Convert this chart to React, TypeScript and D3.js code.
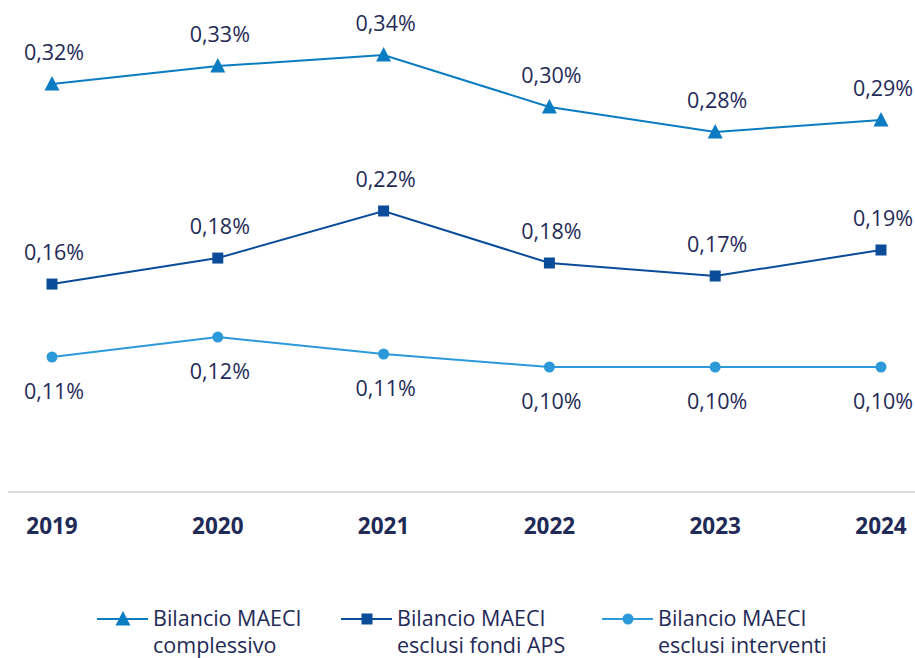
import React from "react";
import * as d3 from "d3";

const years = ["2019", "2020", "2021", "2022", "2023", "2024"];
const complessivo = [0.3177, 0.3315, 0.34, 0.3, 0.2808, 0.29];
const complessivoLabels = ["0,32%", "0,33%", "0,34%", "0,30%", "0,28%", "0,29%"];
const esclusiAPS = [0.1638, 0.1838, 0.22, 0.18, 0.17, 0.19];
const esclusiAPSLabels = ["0,16%", "0,18%", "0,22%", "0,18%", "0,17%", "0,19%"];
const esclusiInterventi = [0.1077, 0.123, 0.11, 0.1, 0.1, 0.1];
const esclusiInterventiLabels = ["0,11%", "0,12%", "0,11%", "0,10%", "0,10%", "0,10%"];

const FONT = "'Open Sans', 'Noto Sans', sans-serif";
const TEXT = "#1f2a57";

const series = [
  { values: complessivo, labels: complessivoLabels, color: "#0b7cc2", marker: "triangle", labelPos: "above", legend: ["Bilancio MAECI", "complessivo"] },
  { values: esclusiAPS, labels: esclusiAPSLabels, color: "#0a4c9a", marker: "square", labelPos: "above", legend: ["Bilancio MAECI", "esclusi fondi APS"] },
  { values: esclusiInterventi, labels: esclusiInterventiLabels, color: "#2c9ad9", marker: "circle", labelPos: "below", legend: ["Bilancio MAECI", "esclusi interventi"] },
];

function Marker({ type, x, y, color }: { type: string; x: number; y: number; color: string }) {
  if (type === "triangle") {
    const p = d3.path();
    p.moveTo(x, y - 8);
    p.lineTo(x + 7.5, y + 6.5);
    p.lineTo(x - 7.5, y + 6.5);
    p.closePath();
    return <path d={p.toString()} fill={color} />;
  }
  if (type === "square") {
    return <rect x={x - 5.5} y={y - 5.5} width={11} height={11} fill={color} />;
  }
  return <circle cx={x} cy={y} r={5.5} fill={color} />;
}

export default function App() {
  const W = 915;
  const H = 658;
  const x = d3.scalePoint<string>().domain(years).range([52, 881]);
  const y = d3.scaleLinear().domain([0.1, 0.34]).range([367, 55]);
  const line = d3
    .line<number>()
    .x((_, i) => x(years[i]) as number)
    .y((v) => y(v));

  const legendX = [97, 341, 602];
  const legendY = 619;

  return (
    <svg width={W} height={H} style={{ position: "absolute", left: 0, top: 0, background: "#fff" }}>
      <line x1={8} x2={915} y1={492} y2={492} stroke="#cfcfcf" strokeWidth={1.5} />
      {years.map((yr) => (
        <text key={yr} x={x(yr)} y={534} textAnchor="middle" fontFamily={FONT} fontWeight={700} fontSize={22.5} fill={TEXT}>
          {yr}
        </text>
      ))}
      {series.map((s, si) => (
        <g key={si}>
          <path d={line(s.values) as string} fill="none" stroke={s.color} strokeWidth={2} />
          {s.values.map((v, i) => (
            <Marker key={i} type={s.marker} x={x(years[i]) as number} y={y(v)} color={s.color} />
          ))}
          {s.values.map((v, i) => (
            <text
              key={"l" + i}
              x={(x(years[i]) as number) + 2}
              y={s.labelPos === "above" ? y(v) - 24 : y(v) + 42}
              textAnchor="middle"
              fontFamily={FONT}
              fontSize={21.5}
              fontWeight={400}
              fill={TEXT}
            >
              {s.labels[i]}
            </text>
          ))}
        </g>
      ))}
      {series.map((s, si) => (
        <g key={"lg" + si}>
          <line x1={legendX[si]} x2={legendX[si] + 51} y1={legendY} y2={legendY} stroke={s.color} strokeWidth={2} />
          <Marker type={s.marker} x={legendX[si] + 26} y={legendY} color={s.color} />
          <text x={legendX[si] + 56} y={legendY + 7} fontFamily={FONT} fontSize={21.5} fill={TEXT}>
            {s.legend[0]}
          </text>
          <text x={legendX[si] + 56} y={legendY + 34} fontFamily={FONT} fontSize={21.5} fill={TEXT}>
            {s.legend[1]}
          </text>
        </g>
      ))}
    </svg>
  );
}
